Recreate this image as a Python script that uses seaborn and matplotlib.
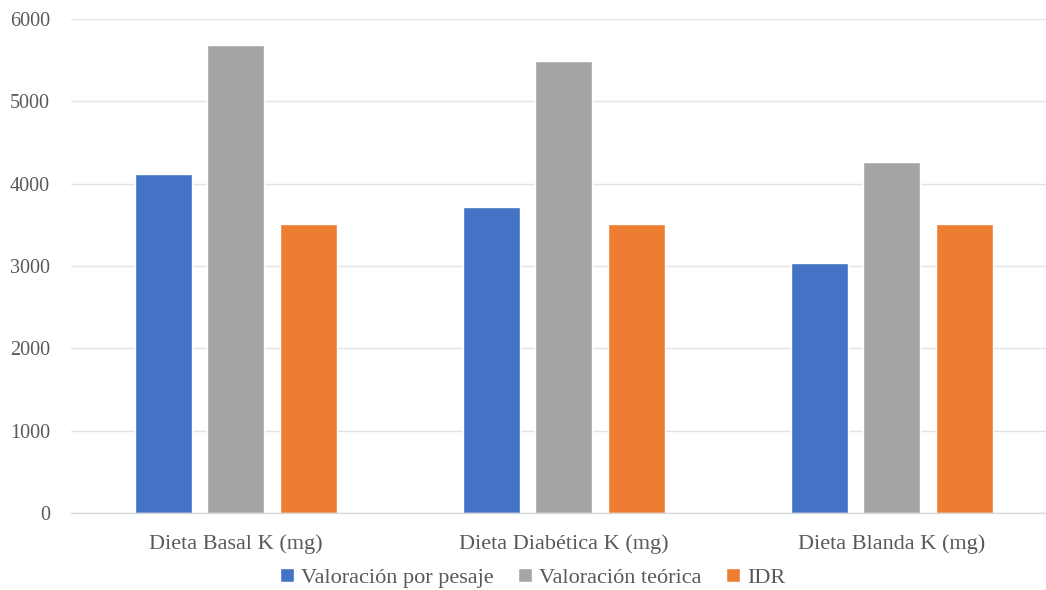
import matplotlib
matplotlib.use("Agg")
import matplotlib.pyplot as plt
import seaborn as sns
import pandas as pd
from matplotlib.patches import Patch
from matplotlib.font_manager import FontProperties

categories = ["Dieta Basal K (mg)", "Dieta Diabética K (mg)", "Dieta Blanda K (mg)"]
series_names = ["Valoración por pesaje", "Valoración teórica", "IDR"]
pesaje = [4115, 3715, 3040]
teorica = [5690, 5485, 4265]
idr = [3510, 3510, 3510]
colors = ["#4472C4", "#A5A5A5", "#ED7D31"]
yticks = [0, 1000, 2000, 3000, 4000, 5000, 6000]

rows = []
for vals, name in zip([pesaje, teorica, idr], series_names):
    for c, v in zip(categories, vals):
        rows.append({"cat": c, "serie": name, "val": v})
df = pd.DataFrame(rows)

sns.set_theme(style="white")
SERIF = ['Liberation Serif', 'DejaVu Serif']
plt.rcParams['font.family'] = SERIF
FS = 16

fig = plt.figure(figsize=(10.46, 5.9), dpi=100)
ax = fig.add_axes([71/1046, 1 - 513/590, 1 - 71/1046, (513 - 19)/590])

sns.barplot(data=df, x="cat", y="val", hue="serie", order=categories,
            hue_order=series_names, palette=colors, width=0.66, gap=0.21,
            saturation=1, ax=ax, legend=False)

ax.set_ylim(0, 6000)
ax.set_xlim(-0.503, 2.47)
ax.set_yticks(yticks)
ax.set_yticklabels([str(t) for t in yticks], fontsize=14.5, color="#595959")
ax.tick_params(axis='x', labelsize=FS, colors="#595959", length=0, pad=15)
ax.tick_params(axis='y', length=0, pad=15)
ax.set_xlabel("")
ax.set_ylabel("")
ax.grid(axis='y', color="#E3E3E3", linewidth=1)
ax.set_axisbelow(True)
for s in ["top", "right", "left"]:
    ax.spines[s].set_visible(False)
ax.spines["bottom"].set_color("#D9D9D9")
ax.spines["bottom"].set_linewidth(1)

prop = FontProperties(family=SERIF, size=FS)
handles = [Patch(facecolor=c, label=n) for c, n in zip(colors, series_names)]
leg = fig.legend(handles=handles, loc="center", bbox_to_anchor=(533/1046, 1 - 578/590),
                 ncol=3, frameon=False, prop=prop, handlelength=0.6, handleheight=0.6,
                 handletextpad=0.35, columnspacing=1.1, labelcolor="#595959")
for t in leg.get_texts():
    t.set_fontfamily(SERIF)

fig.savefig("out.png", dpi=100)
